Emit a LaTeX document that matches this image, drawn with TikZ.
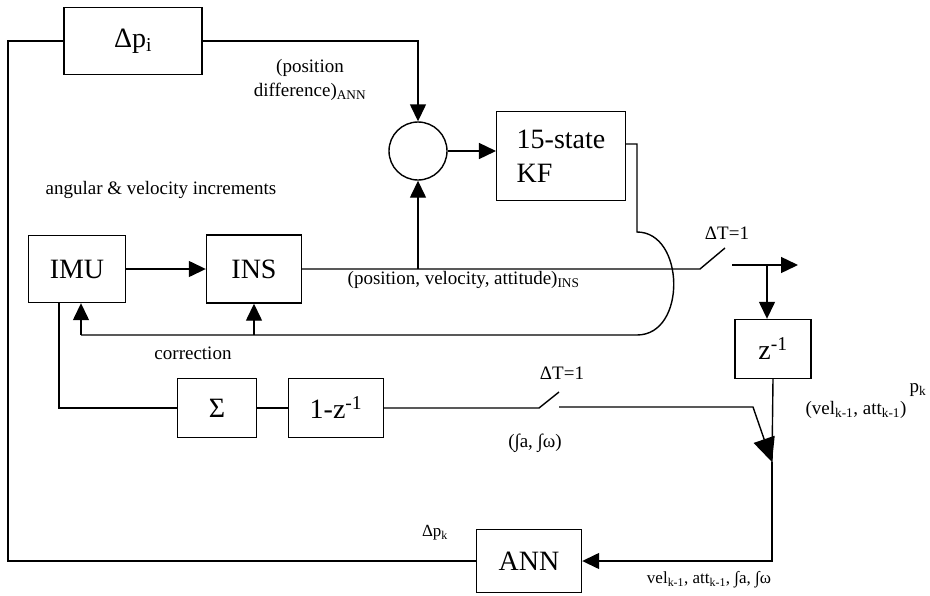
\documentclass[tikz,border=0pt]{standalone}
\usepackage{fontspec}
\setmainfont{Liberation Serif}
\usetikzlibrary{arrows.meta}

\begin{document}
\begin{tikzpicture}[x=1pt, y=-1pt, line width=1.4pt,
    >={Triangle[length=17pt,width=16pt]},
    block/.style={draw, inner sep=0pt, font=\fontsize{28}{34}\selectfont},
    lbl/.style={inner sep=0pt, font=\fontsize{19}{24}\selectfont},
    smalllbl/.style={inner sep=0pt, font=\fontsize{17}{20}\selectfont}]
      \useasboundingbox (0,0) rectangle (930,595);

      % DeltaPi:
      %   position difference coming back from the ANN
      \node[block, minimum width=138pt, minimum height=67pt] (DeltaPi) at (133,41) {Δp\textsubscript{i}};
      % Sum:
      %   compares INS output and ANN output
      \node[draw, circle, minimum size=58pt, inner sep=0pt] (Sum) at (418,151) {};
      % KF:
      %   the 15-state Kalman filter
      \node[block, align=left, inner xsep=20pt, minimum height=89pt] (KF) at (561,156) {15-state\\KF};
      % IMU and INS
      \node[block, minimum width=97pt, minimum height=67pt] (IMU) at (77,269) {IMU};
      \node[block, minimum width=95pt, minimum height=68pt] (INS) at (254,269) {INS};
      % ZInv:
      %   one step delay
      \node[block, minimum width=76pt, minimum height=59pt] (ZInv) at (773,349) {z\textsuperscript{-1}};
        % Sigma and Diff:
        %   accumulate the increments
        \node[block, minimum width=79pt, minimum height=59pt] (Sigma) at (217,408) {Σ};
        \node[block, minimum width=95pt, minimum height=59pt] (Diff) at (336,408) {1-z\textsuperscript{-1}};
      % ANN:
      %   neural network predicting the position difference
      \node[block, minimum width=105pt, minimum height=63pt] (ANN) at (529,561) {ANN};

      % labels
      \node[lbl, align=center] (PosDiffLbl) at (310,80) {(position\\difference)\textsubscript{ANN}};
      \node[lbl] (IncrLbl) at (161,190) {angular \& velocity increments};
      \node[lbl, anchor=west] (InsLbl) at (347,280) {(position, velocity, attitude)\textsubscript{INS}};
      \node[lbl] (CorrLbl) at (193,353) {correction};
      \node[lbl] (TopSwLbl) at (727,233) {ΔT=1};
      \node[lbl] (LowSwLbl) at (562,373) {ΔT=1};
      \node[lbl] (IntLbl) at (535,443) {(∫a, ∫ω)};
      \node[lbl] (PrevLbl) at (856,410) {(vel\textsubscript{k-1}, att\textsubscript{k-1})};
      \node[lbl] (PkLbl) at (918,390) {p\textsubscript{k}};
      \node[smalllbl] (DeltaPkLbl) at (435,533) {Δp\textsubscript{k}};
      \node[smalllbl] (AnnInLbl) at (709,580) {vel\textsubscript{k-1}, att\textsubscript{k-1}, ∫a, ∫ω};

      % free ends and corners
      \coordinate (LeftTop) at (8,41);
      \coordinate (LeftBot) at (8,561);
      \coordinate (KFOut) at ([yshift=12pt]KF.east);
      \coordinate (BumpTop) at (637,232);
      \coordinate (BumpBot) at (637,335);
      \coordinate (Corr) at (81,335);
      \coordinate (TopSwA) at (700,269);
      \coordinate (TopSwB) at (725,248);
      \coordinate (TopSwC) at (732,265);
      \coordinate (Tap) at (767,265);
      \coordinate (Out) at (798,265);
      \coordinate (ImuTap) at (59,408);
      \coordinate (LowSwA) at (539,408);
      \coordinate (LowSwB) at (559,392);
      \coordinate (LowSwC) at (559,407);
      \coordinate (Bend) at (753,407);
      \coordinate (Merge) at (772,462);
      \coordinate (Corner) at (772,561);

      % ANN feedback loop
      \draw (DeltaPi.west) -- (LeftTop) -- (LeftBot) -- (ANN.west);
      \draw[->] (DeltaPi.east) -| (Sum.north);
      \draw[->] (Sum.east) -- (Sum.east -| KF.west);

      % correction from the KF
      \draw (KFOut) -| (BumpTop) .. controls (685,232) and (687,335) .. (BumpBot) -- (Corr);
      \draw[->] (Corr) -- (Corr |- IMU.south);
      \draw[->] (INS.south |- Corr) -- (INS.south);

      % INS chain
      \draw[->] (IMU) -- (INS);
      \draw (INS.east) -- (TopSwA) -- (TopSwB);
      \draw[->] (TopSwC) -- (Out);
      \draw[->] (Tap) -- (Tap |- ZInv.north);
      \draw[->] (Sum.south |- INS.east) -- (Sum.south);

      % increments chain
      \draw (IMU.south -| ImuTap) -- (ImuTap) -- (Sigma.west);
      \draw (Sigma) -- (Diff);
      \draw (Diff.east) -- (LowSwA) -- (LowSwB);
      \draw[-{Triangle[length=24pt,width=22pt]}] (LowSwC) -- (Bend) -- (Merge);
      \draw (ZInv.south) -- (Merge);
      \draw[->] (Merge) -- (Corner) -- (ANN.east);
    \end{tikzpicture}
\end{document}
